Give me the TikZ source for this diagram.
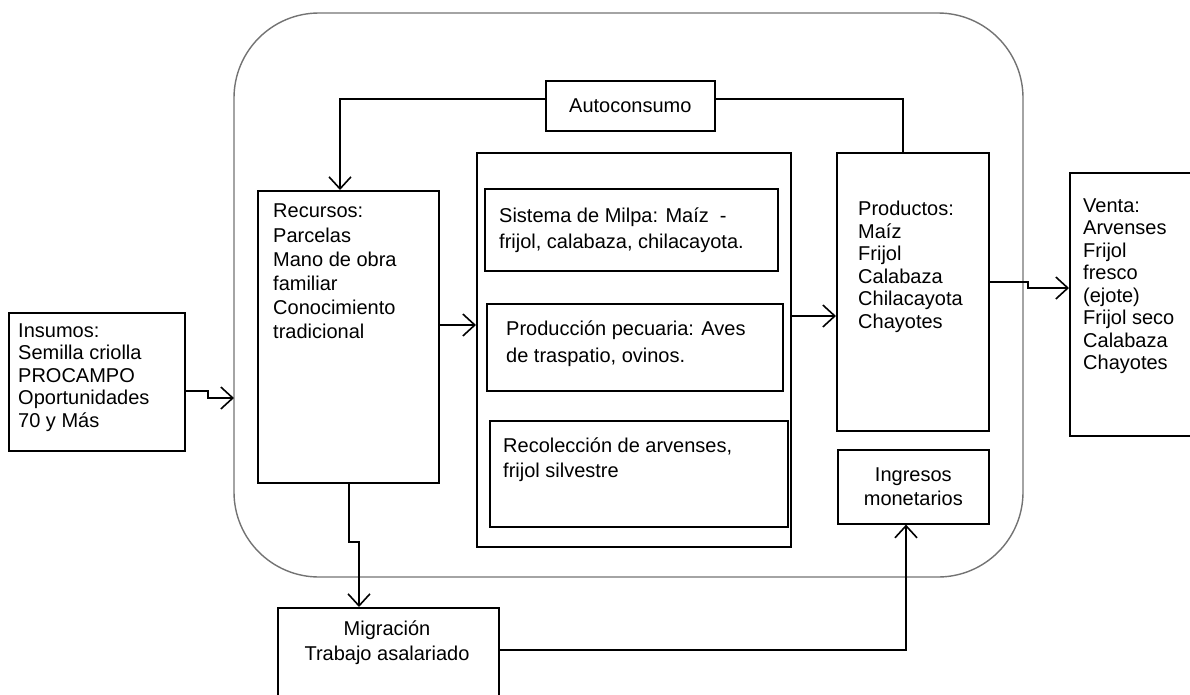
\documentclass[tikz,border=0pt]{standalone}
\usepackage{fontspec}
\setmainfont{Liberation Sans}
\usetikzlibrary{arrows.meta,calc}
\begin{document}
\begin{tikzpicture}[x=1pt,y=-1pt,
  box/.style={draw=black, line width=1.6pt, rectangle, inner sep=0pt, anchor=north west},
  txt/.style={inner sep=0pt, anchor=north west, align=left, font=\fontsize{20}{#1}\selectfont},
  txt/.default=22.5,
  ctxt/.style={inner sep=0pt, align=center, font=\fontsize{20}{#1}\selectfont},
  ctxt/.default=24,
  conn/.style={draw=black, line width=1.6pt},
  arr/.style={conn, -{Straight Barb[length=12pt,width=22pt,line width=1.6pt]}}
]
\useasboundingbox (0,0) rectangle (1190,694);
% outer rounded frame
\draw[draw=black!55, line width=1.4pt, rounded corners=85pt] (234,13) rectangle (1023,577);

% boxes
\node[box, minimum width=176pt, minimum height=138pt] (ins) at (8,312) {};
\node[box, minimum width=181pt, minimum height=292pt] (rec) at (257,190) {};
\node[box, minimum width=314pt, minimum height=394pt] (cen) at (476,152) {};
\node[box, minimum width=293pt, minimum height=82pt] (mil) at (484,188) {};
\node[box, minimum width=296pt, minimum height=87pt] (pec) at (486,303) {};
\node[box, minimum width=298pt, minimum height=106pt] (rco) at (489,420) {};
\node[box, minimum width=152pt, minimum height=278pt] (pro) at (836,152) {};
\node[box, minimum width=169pt, minimum height=50pt] (aut) at (545,80) {};
\node[box, minimum width=151pt, minimum height=74pt] (ing) at (837,449) {};
\node[box, minimum width=221pt, minimum height=100pt] (mig) at (277,607) {};
\node[box, minimum width=130pt, minimum height=263pt] (ven) at (1069,172) {};

% texts
\node[txt] (instx) at (18,323.5) {Insumos:\\Semilla criolla\\PROCAMPO\\Oportunidades\\70 y Más};
\node[txt=24.2] (rectx) at (273,204) {Recursos:\\Parcelas\\Mano de obra\\familiar\\Conocimiento\\tradicional};
\node[txt=26] (miltx) at (499,207.5) {Sistema de Milpa: Maíz\ \ -\\frijol, calabaza, chilacayota.};
\node[txt=27] (pectx) at (506,320.5) {Producción pecuaria: Aves\\de traspatio, ovinos.};
\node[txt=25] (rcotx) at (503,438) {Recolección de arvenses,\\frijol silvestre};
\node[txt] (protx) at (858,201) {Productos:\\Maíz\\Frijol\\Calabaza\\Chilacayota\\Chayotes};
\node[txt] (ventx) at (1083,198.5) {Venta:\\Arvenses\\Frijol\\fresco\\(ejote)\\Frijol seco\\Calabaza\\Chayotes};
\node[ctxt] (auttx) at (aut.center) {Autoconsumo};
\node[ctxt] (ingtx) at (ing.center) {Ingresos\\monetarios};
\node[ctxt=25] (migtx) at (387,643) {Migración\\Trabajo asalariado};

% connectors
\coordinate (frame-l) at (234,398);
\draw[arr] (ins.east |- 0,391) -- (208,391) -- (208,398) -- (frame-l);
\draw[arr] (rec.east |- 0,325) -- (cen.west |- 0,325);
\draw[arr] (cen.east |- 0,316) -- (pro.west |- 0,316);
\draw[arr] (aut.west |- 0,99) -| (rec.north -| 340,0);
\draw[conn] (aut.east |- 0,99) -| (pro.north -| 903,0);
\draw[arr] (rec.south -| 349,0) -- (349,542) -- (359,542) -- (mig.north -| 359,0);
\draw[arr] (mig.east |- 0,650) -| (ing.south -| 906,0);
\draw[arr] (pro.east |- 0,282) -- (1028,282) -- (1028,288) -- (ven.west |- 0,288);
\end{tikzpicture}
\end{document}
